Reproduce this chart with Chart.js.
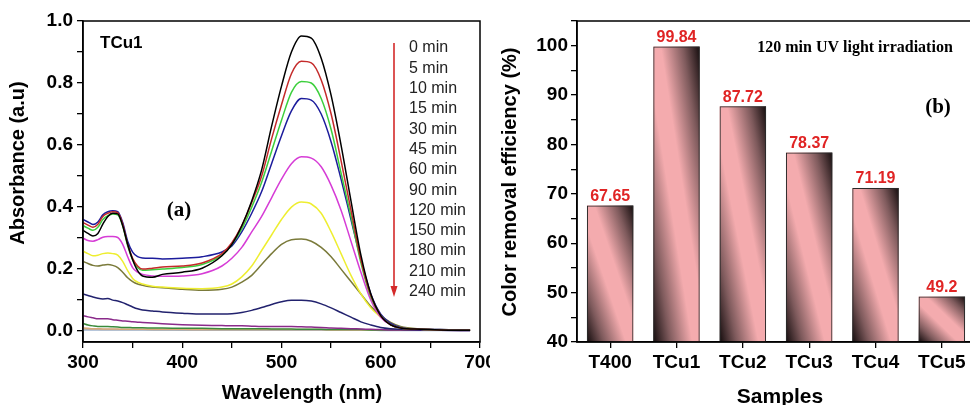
<!DOCTYPE html>
<html>
<head>
<meta charset="utf-8">
<script src="https://cdn.jsdelivr.net/npm/chart.js@4.4.1/dist/chart.umd.min.js"></script>
<style>
  body { margin: 0; width: 970px; height: 405px; overflow: hidden; background: #fff; position: relative; }
  #spectra { position: absolute; left: 0; top: 0; }
  #bars { position: absolute; left: 490px; top: 0; background: #fff; }
</style>
</head>
<body>
<canvas id="spectra" width="520" height="405"></canvas>
<canvas id="bars" width="490" height="405"></canvas>
<script>
// panel (a): UV-vis spectra of TCu1 at different irradiation times
const wavelengths = [300,305,310,315,320,325,330,335,340,345,350,355,360,370,380,400,420,440,450,460,470,480,490,500,510,520,530,540,550,560,570,580,590,600,610,620,640,660,690];

const abs0min   = [.325,.315,.307,.315,.345,.37,.38,.378,.34,.28,.23,.195,.178,.174,.183,.19,.203,.243,.28,.34,.42,.52,.66,.79,.9,.952,.945,.88,.76,.6,.42,.245,.12,.05,.02,.01,.006,.004,.003];
const abs5min   = [.35,.342,.335,.345,.37,.38,.385,.382,.345,.28,.235,.21,.2,.203,.207,.21,.22,.25,.285,.34,.415,.5,.62,.73,.83,.87,.865,.81,.7,.55,.39,.23,.115,.05,.02,.01,.006,.004,.003];
const abs10min  = [.34,.332,.325,.335,.36,.372,.378,.375,.34,.275,.23,.205,.196,.198,.2,.205,.215,.245,.28,.33,.4,.48,.58,.68,.77,.805,.8,.75,.65,.51,.37,.22,.11,.05,.02,.01,.006,.004,.003];
const abs15min  = [.36,.352,.344,.352,.375,.385,.388,.385,.35,.29,.255,.24,.236,.235,.233,.235,.24,.255,.275,.32,.38,.45,.54,.63,.71,.75,.745,.7,.61,.49,.36,.23,.12,.055,.025,.012,.007,.005,.004];
const abs30min  = [.30,.292,.29,.295,.303,.305,.305,.302,.28,.24,.205,.19,.183,.178,.177,.178,.185,.21,.235,.27,.32,.37,.43,.49,.54,.562,.558,.53,.47,.39,.29,.19,.1,.045,.02,.01,.006,.004,.003];
const abs45min  = [.258,.25,.243,.245,.25,.252,.25,.245,.225,.195,.17,.158,.152,.145,.142,.138,.137,.142,.152,.175,.21,.26,.31,.36,.4,.416,.41,.38,.32,.25,.18,.12,.075,.045,.022,.012,.006,.004,.003];
const abs60min  = [.225,.218,.212,.21,.213,.215,.212,.205,.19,.172,.16,.152,.148,.142,.14,.135,.132,.135,.142,.158,.18,.215,.25,.28,.295,.297,.29,.27,.24,.2,.16,.12,.08,.05,.028,.015,.007,.005,.004];
const abs90min  = [.12,.115,.11,.106,.104,.105,.1,.097,.092,.085,.078,.072,.068,.065,.062,.058,.055,.055,.056,.06,.067,.076,.086,.095,.1,.1,.097,.088,.075,.06,.045,.03,.02,.012,.008,.006,.004,.003,.002];
const abs120min = [.05,.046,.043,.04,.04,.04,.037,.035,.033,.032,.03,.029,.028,.026,.024,.021,.019,.018,.017,.017,.016,.015,.015,.015,.015,.014,.013,.012,.01,.009,.008,.007,.006,.005,.004,.004,.003,.003,.002];
const abs150min = [.025,.02,.017,.015,.015,.015,.014,.013,.012,.012,.011,.011,.011,.01,.01,.009,.009,.008,.008,.008,.008,.008,.007,.007,.007,.006,.006,.006,.005,.005,.005,.005,.004,.004,.004,.004,.003,.003,.003];
const abs180min = [.01,.009,.008,.008,.007,.007,.007,.007,.006,.006,.006,.006,.006,.006,.006,.006,.005,.005,.005,.005,.005,.005,.005,.005,.005,.005,.005,.005,.004,.004,.004,.004,.004,.004,.004,.003,.003,.003,.003];
const abs210min = [.007,.006,.006,.006,.005,.005,.005,.005,.005,.005,.005,.005,.005,.004,.004,.004,.004,.004,.004,.004,.004,.004,.004,.004,.004,.004,.004,.004,.004,.004,.003,.003,.003,.003,.003,.003,.003,.003,.003];
const abs240min = [.004,.004,.004,.004,.004,.004,.004,.004,.004,.004,.004,.004,.004,.004,.004,.003,.003,.003,.003,.003,.003,.003,.003,.003,.003,.003,.003,.003,.003,.003,.003,.003,.003,.002,.002,.002,.002,.002,.002];

const timeLabels = ['0 min','5 min','10 min','15 min','30 min','45 min','60 min','90 min','120 min','150 min','180 min','210 min','240 min'];
const curveColors = ['#000000','#c42a2a','#3ccf3c','#1c1c9c','#d63cd6','#eeee30','#7a7a3a','#22226e','#8a2a8a','#3a8a3a','#d8a878','#b0b0b0','#9fb4d0'];
const spectra = [abs0min,abs5min,abs10min,abs15min,abs30min,abs45min,abs60min,abs90min,abs120min,abs150min,abs180min,abs210min,abs240min];

// panel (b): colour removal after 120 min
const sampleNames = ['T400','TCu1','TCu2','TCu3','TCu4','TCu5'];
const removalEfficiency = [67.65, 99.84, 87.72, 78.37, 71.19, 49.2];

const SANS = "'Liberation Sans', Arial, sans-serif";
const SERIF = "'Liberation Serif', 'Times New Roman', serif";

function frame(chart) {
  const a = chart.chartArea, ctx = chart.ctx;
  ctx.save();
  ctx.strokeStyle = '#000';
  ctx.lineWidth = 1.5;
  ctx.strokeRect(a.left, a.top, a.right - a.left, a.bottom - a.top);
  ctx.restore();
}

function rotatedText(ctx, txt, x, y) {
  ctx.save();
  ctx.translate(x, y);
  ctx.rotate(-Math.PI / 2);
  ctx.fillText(txt, 0, 0);
  ctx.restore();
}

//labels, legend and arrow of panel (a)
const spectraDecor = {
  id: 'spectraDecor',
  afterDraw(chart) {
    const ctx = chart.ctx;
    frame(chart);
    ctx.save();
    ctx.fillStyle = '#000';
    ctx.textBaseline = 'middle';
    ctx.textAlign = 'left';
    ctx.font = 'bold 17px ' + SANS;
    ctx.fillText('TCu1', 100, 43);
    ctx.textAlign = 'center';
    ctx.font = 'bold 21px ' + SERIF;
    ctx.fillText('(a)', 179, 211);

    ctx.font = '16px ' + SANS;
    ctx.fillStyle = '#222';
    ctx.textAlign = 'left';
    timeLabels.forEach((t, i) => ctx.fillText(t, 409, 48 + i * 20.3));

    ctx.strokeStyle = '#d42a2a';
    ctx.fillStyle = '#d42a2a';
    ctx.lineWidth = 1.6;
    ctx.beginPath();
    ctx.moveTo(394, 43);
    ctx.lineTo(394, 288);
    ctx.stroke();
    ctx.beginPath();
    ctx.moveTo(390.5, 286);
    ctx.lineTo(397.5, 286);
    ctx.lineTo(394, 297);
    ctx.closePath();
    ctx.fill();

    ctx.fillStyle = '#000';
    ctx.textAlign = 'center';
    ctx.font = 'bold 20px ' + SANS;
    ctx.fillText('Wavelength (nm)', 302, 393);
    rotatedText(ctx, 'Absorbance (a.u)', 18, 163);
    ctx.restore();
  }
};

new Chart(document.getElementById('spectra'), {
  type: 'line',
  data: {
    datasets: spectra.map((s, k) => ({
      label: timeLabels[k],
      data: wavelengths.map((w, i) => ({ x: w, y: s[i] })),
      borderColor: curveColors[k],
      borderWidth: 1.5,
      pointRadius: 0,
      cubicInterpolationMode: 'monotone',
      fill: false
    }))
  },
  options: {
    responsive: false,
    animation: false,
    events: [],
    layout: { padding: { left: 0, top: 21, right: 40, bottom: 0 } },
    plugins: { legend: { display: false }, tooltip: { enabled: false } },
    scales: {
      x: {
        type: 'linear',
        min: 300,
        max: 700,
        border: { color: '#000', width: 1.5 },
        grid: { drawOnChartArea: false, color: '#000', tickLength: 6, lineWidth: 1.3 },
        ticks: {
          stepSize: 50,
          includeBounds: false,
          color: '#000',
          padding: 3,
          maxRotation: 0,
          autoSkip: false,
          font: { family: SANS, size: 19, weight: 'bold' },
          callback: v => (v % 100 === 0 ? v : '')
        },
        afterFit: s => { s.height = 63; }
      },
      y: {
        min: -0.035,
        max: 1.0,
        border: { color: '#000', width: 1.5 },
        grid: { drawOnChartArea: false, color: '#000', tickLength: 6, lineWidth: 1.3 },
        ticks: {
          stepSize: 0.1,
          includeBounds: false,
          color: '#000',
          padding: 4,
          autoSkip: false,
          font: { family: SANS, size: 19, weight: 'bold' },
          callback: v => (Math.round(v * 10) % 2 === 0 ? v.toFixed(1) : '')
        },
        afterFit: s => { s.width = 83; }
      }
    }
  },
  plugins: [spectraDecor]
});

//diagonal pink/black fill of every bar, drawn under the bar border
const barShade = {
  id: 'barShade',
  beforeDatasetsDraw(chart) {
    const ctx = chart.ctx;
    chart.getDatasetMeta(0).data.forEach(bar => {
      const p = bar.getProps(['x', 'y', 'base', 'width'], true);
      const left = p.x - p.width / 2;
      const h = p.base - p.y;
      ctx.save();
      ctx.translate(left, p.y);
      ctx.scale(p.width, h);
      const g = ctx.createLinearGradient(0, 1, 1, 0);
      g.addColorStop(0, '#140c0d');
      g.addColorStop(0.18, '#7e5a5c');
      g.addColorStop(0.42, '#f4abae');
      g.addColorStop(0.58, '#f4abae');
      g.addColorStop(0.82, '#7e5a5c');
      g.addColorStop(1, '#140c0d');
      ctx.fillStyle = g;
      ctx.fillRect(0, 0, 1, 1);
      ctx.restore();
    });
  },
  afterDatasetsDraw(chart) {
    const ctx = chart.ctx;
    ctx.save();
    ctx.fillStyle = '#e02424';
    ctx.font = 'bold 16px ' + SANS;
    ctx.textAlign = 'center';
    ctx.textBaseline = 'bottom';
    chart.getDatasetMeta(0).data.forEach((bar, i) => {
      ctx.fillText(String(removalEfficiency[i]), bar.x, bar.y - 1);
    });
    ctx.restore();
  },
  afterDraw(chart) {
    const ctx = chart.ctx;
    frame(chart);
    ctx.save();
    ctx.fillStyle = '#000';
    ctx.textAlign = 'center';
    ctx.textBaseline = 'middle';
    ctx.font = 'bold 16px ' + SERIF;
    ctx.fillText('120 min UV light irradiation', 365, 48);
    ctx.font = 'bold 21px ' + SERIF;
    ctx.fillText('(b)', 448, 108);
    ctx.font = 'bold 21px ' + SANS;
    ctx.fillText('Samples', 290, 397);
    ctx.font = 'bold 20px ' + SANS;
    rotatedText(ctx, 'Color removal efficiency (%)', 20, 182);
    ctx.restore();
  }
};

new Chart(document.getElementById('bars'), {
  type: 'bar',
  data: {
    labels: sampleNames,
    datasets: [{
      label: 'Color removal efficiency (%)',
      data: removalEfficiency,
      base: 40,
      backgroundColor: 'rgba(0,0,0,0)',
      borderColor: '#2a2a2a',
      borderWidth: 1,
      barPercentage: 0.7,
      categoryPercentage: 1.0
    }]
  },
  options: {
    responsive: false,
    animation: false,
    events: [],
    layout: { padding: { left: 0, top: 21, right: 5, bottom: 0 } },
    plugins: { legend: { display: false }, tooltip: { enabled: false } },
    scales: {
      x: {
        border: { color: '#000', width: 1.5 },
        grid: { drawOnChartArea: false, offset: false, color: '#000', tickLength: 6, lineWidth: 1.3 },
        ticks: {
          color: '#000',
          padding: 3,
          maxRotation: 0,
          font: { family: SANS, size: 19, weight: 'bold' }
        },
        afterFit: s => { s.height = 63; }
      },
      y: {
        min: 40,
        max: 105,
        border: { color: '#000', width: 1.5 },
        grid: { drawOnChartArea: false, color: '#000', tickLength: 6, lineWidth: 1.3 },
        ticks: {
          stepSize: 5,
          includeBounds: false,
          color: '#000',
          padding: 3,
          autoSkip: false,
          font: { family: SANS, size: 19, weight: 'bold' },
          callback: v => (v % 10 === 0 ? v : '')
        },
        afterFit: s => { s.width = 87; }
      }
    }
  },
  plugins: [barShade]
});
</script>
</body>
</html>
